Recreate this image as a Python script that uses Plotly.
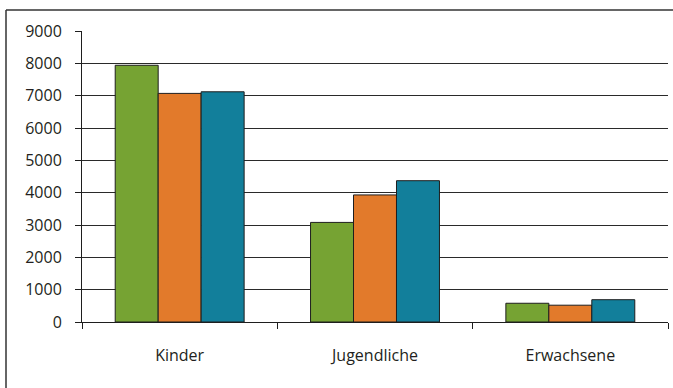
import plotly.graph_objects as go

categories = ["Kinder", "Jugendliche", "Erwachsene"]
series_a = [7940, 3080, 580]   # green
series_b = [7070, 3930, 520]   # orange
series_c = [7120, 4370, 690]   # teal
y_ticks = [0, 1000, 2000, 3000, 4000, 5000, 6000, 7000, 8000, 9000]

colors = ["#76a333", "#e27a2b", "#127f9b"]
names = ["Serie 1", "Serie 2", "Serie 3"]

fig = go.Figure()
for vals, col, nm in zip([series_a, series_b, series_c], colors, names):
    fig.add_trace(go.Bar(x=categories, y=vals, name=nm, marker=dict(color=col, line=dict(color="#1e1e1e", width=1))))

W, H = 673, 388
L, R, T, B = 82, 5, 31, 66
pw, ph = W - L - R, H - T - B

font = dict(family="Open Sans", size=16, color="#231f20")
fig.update_layout(
    width=W, height=H,
    margin=dict(l=L, r=R, t=T, b=B),
    paper_bgcolor="white", plot_bgcolor="white",
    barmode="group", bargap=0.34, bargroupgap=0,
    showlegend=False,
    font=font,
    xaxis=dict(
        type="category", tickson="boundaries", ticks="outside", ticklen=6,
        tickcolor="#1e1e1e", showline=True, linecolor="#1e1e1e", linewidth=1,
        showgrid=False, ticklabelstandoff=19, tickfont=font,
    ),
    yaxis=dict(
        range=[0, 9000], tickvals=y_ticks, ticks="outside", ticklen=6,
        tickcolor="#1e1e1e", showline=True, linecolor="#1e1e1e", linewidth=1,
        showgrid=True, gridcolor="#2a2a2a", gridwidth=1, zeroline=False,
        ticklabelstandoff=10, tickfont=font,
    ),
)

# outer frame (top and left edges visible)
x_left = (6 - L) / pw
y_top = 1 + (T - 10) / ph
fig.add_shape(type="line", xref="paper", yref="paper", x0=x_left, x1=(W + 5 - L) / pw, y0=y_top, y1=y_top,
              line=dict(color="#333333", width=1.5))
fig.add_shape(type="line", xref="paper", yref="paper", x0=x_left, x1=x_left, y0=y_top, y1=-(B + 5) / ph,
              line=dict(color="#333333", width=1.5))

fig.write_html("out.html")
